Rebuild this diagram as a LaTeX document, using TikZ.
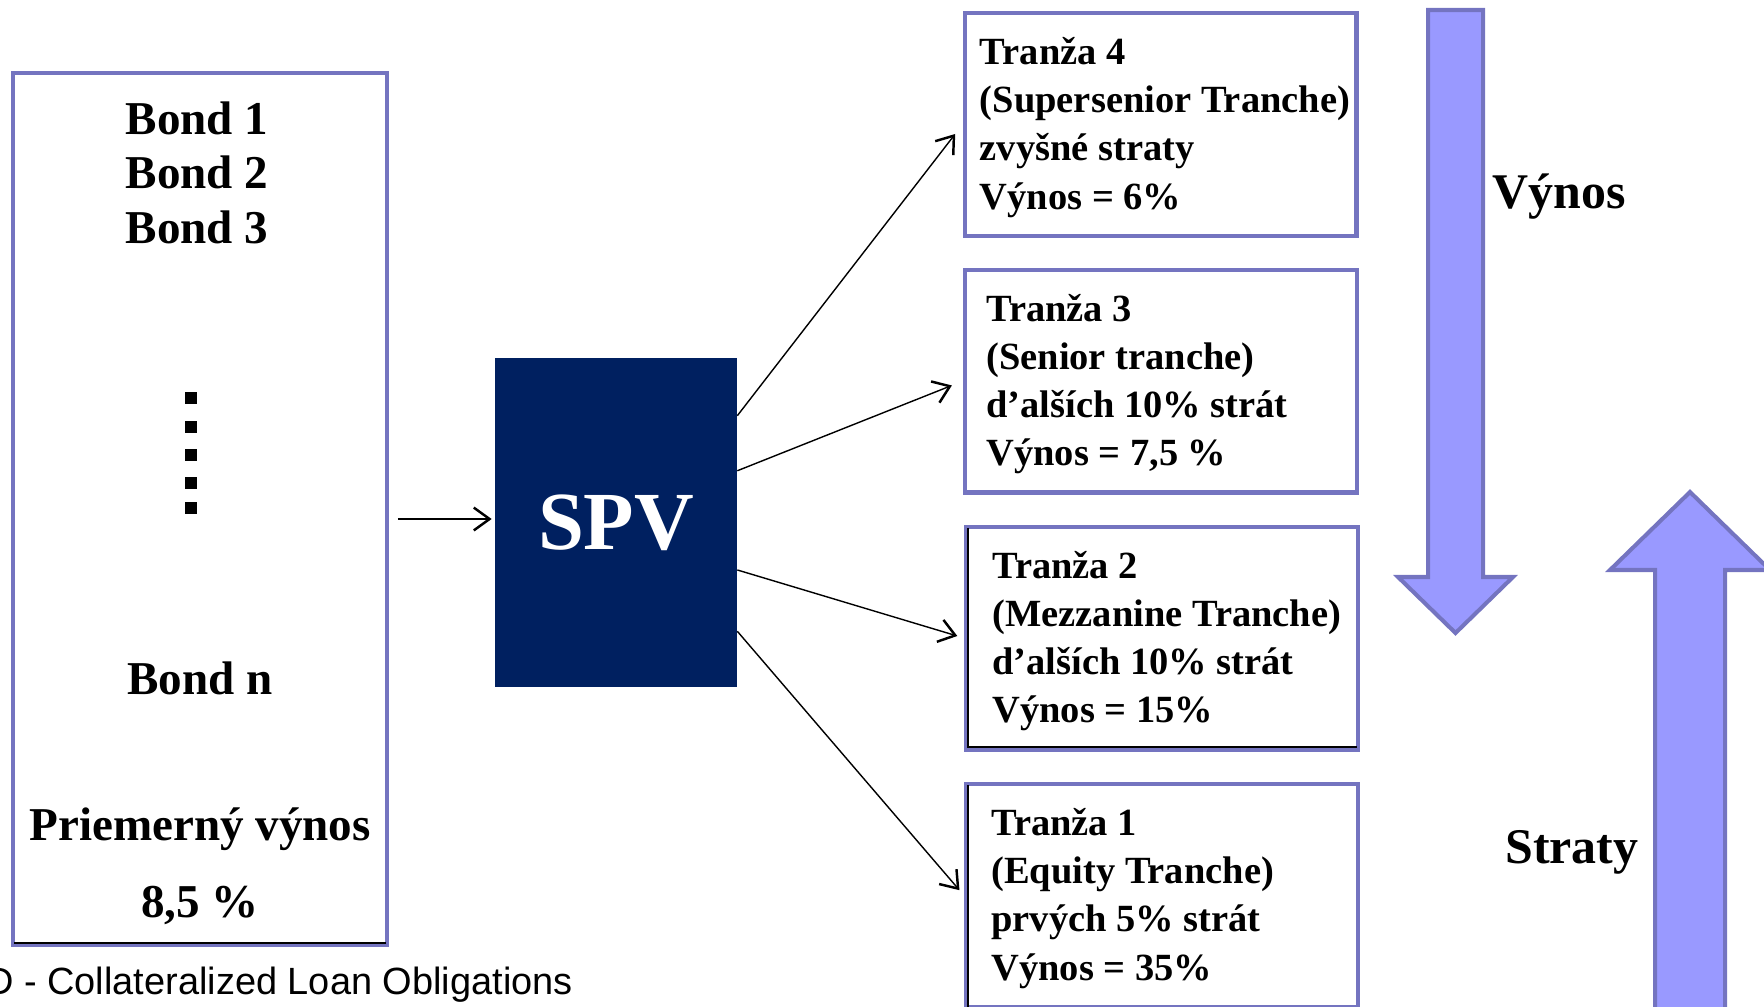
\documentclass[tikz,border=0pt]{standalone}
\usepackage{fontspec}
\setmainfont{Liberation Serif}
\newfontfamily\capfont{Liberation Sans}
\usetikzlibrary{calc,arrows.meta}
\definecolor{spvblue}{RGB}{0,32,96}
\definecolor{boxline}{RGB}{116,116,192}
\definecolor{arrowfill}{RGB}{153,153,255}
\tikzset{
  bondbox/.style={draw=boxline, line width=2.3pt, minimum width=7.48cm, minimum height=17.44cm, inner sep=0pt},
  bondtxt/.style={font=\bfseries\fontsize{26.8}{30}\selectfont, inner sep=0pt, anchor=base},
  spvbox/.style={fill=spvblue, text=white, minimum width=4.84cm, minimum height=6.58cm, inner sep=0pt, font=\bfseries\fontsize{47}{50}\selectfont},
  tranza/.style={draw=boxline, line width=2.3pt, minimum width=7.84cm, minimum height=4.46cm, inner sep=0pt},
  tranzatxt/.style={anchor=west, align=left, inner sep=0pt, yshift=-0.06cm, font=\bfseries\fontsize{21.9}{27.4}\selectfont},
  flow/.style={line width=0.8pt, -{Straight Barb[length=9pt,width=13pt,line width=1.4pt]}},
  bigarrow/.style={draw=boxline, fill=arrowfill, line width=2.3pt, line join=miter},
  sidelbl/.style={font=\bfseries\fontsize{28.4}{30}\selectfont, inner sep=0pt, anchor=base west},
}

\begin{document}
\begin{tikzpicture}[x=0.02cm, y=-0.02cm]
  %%%%% START %%%%%
  \useasboundingbox (0,0) rectangle (1764,1007);

  % bonds
  \node[bondbox] (bonds) at (200,509) {};
  \draw[line width=0.8pt] (14,943) -- (386,943);
  \foreach \i/\y in {1/134, 2/188, 3/243}
    \node[bondtxt] (bond\i) at (197,\y) {Bond \i};
  \foreach \y in {398, 427, 455, 483, 508}
    \fill (185,\y-6) rectangle (197,\y+6);
  \node[bondtxt] (bondn) at (200,694) {Bond n};
  \node[bondtxt] (avg) at (200,840) {Priemerný výnos};
  \node[bondtxt] (avgval) at (200,917) {8,5 \%};
  \node[anchor=base west, inner sep=0pt, font=\capfont\fontsize{21.6}{24}\selectfont] (clo) at (-14,994) {D - Collateralized Loan Obligations};

  % SPV
  \node[spvbox] (spv) at (616,522.5) {SPV};

  % tranze
  \node[tranza] (t4) at (1160.5,124.5) {};
  \node[tranza] (t3) at (1161,381) {};
  \node[tranza] (t2) at (1162,638) {};
  \node[tranza] (t1) at (1162,895.5) {};
  \draw[line width=0.8pt] (968,528) -- (968,747) -- (1357,747);
  \draw[line width=0.8pt] (968,785) -- (968,1007);

  \node[tranzatxt] (t4txt) at ([xshift=0.34cm]t4.west) {Tranža 4\\(Supersenior Tranche)\\zvyšné straty\\Výnos = 6\%};
  \node[tranzatxt] (t3txt) at ([xshift=0.46cm]t3.west) {Tranža 3\\(Senior tranche)\\d’alších 10\% strát\\Výnos = 7,5 \%};
  \node[tranzatxt] (t2txt) at ([xshift=0.56cm]t2.west) {Tranža 2\\(Mezzanine Tranche)\\d’alších 10\% strát\\Výnos = 15\%};
  \node[tranzatxt] (t1txt) at ([xshift=0.54cm]t1.west) {Tranža 1\\(Equity Tranche)\\prvých 5\% strát\\Výnos = 35\%};

  % sipky
  \draw[flow, shorten <=0.18cm, shorten >=0.06cm] ([yshift=0.07cm]bonds.east |- spv.west) -- ([yshift=0.07cm]spv.west);
  \draw[flow, shorten >=0.24cm] ($(spv.north east)!0.176!(spv.south east)$) -- (t4.west);
  \draw[flow, shorten >=0.24cm] ($(spv.north east)!0.343!(spv.south east)$) -- (t3.west);
  \draw[flow, shorten >=0.14cm] ($(spv.north east)!0.644!(spv.south east)$) -- (t2.west);
  \draw[flow, shorten >=0.14cm] ($(spv.north east)!0.83!(spv.south east)$) -- (t1.west);

  % vynos / straty
  \draw[bigarrow] (1428,10) -- (1483,10) -- (1483,577) -- (1513,577) -- (1455.5,633) -- (1398,577) -- (1428,577) -- cycle;
  \draw[bigarrow] (1655,1015) -- (1655,570) -- (1610,570) -- (1690,492) -- (1770,570) -- (1725,570) -- (1725,1015) -- cycle;
  \node[sidelbl] (vynos) at (1492,208) {Výnos};
  \node[sidelbl] (straty) at (1505,863) {Straty};
  %%%%% END %%%%%
\end{tikzpicture}
\end{document}
